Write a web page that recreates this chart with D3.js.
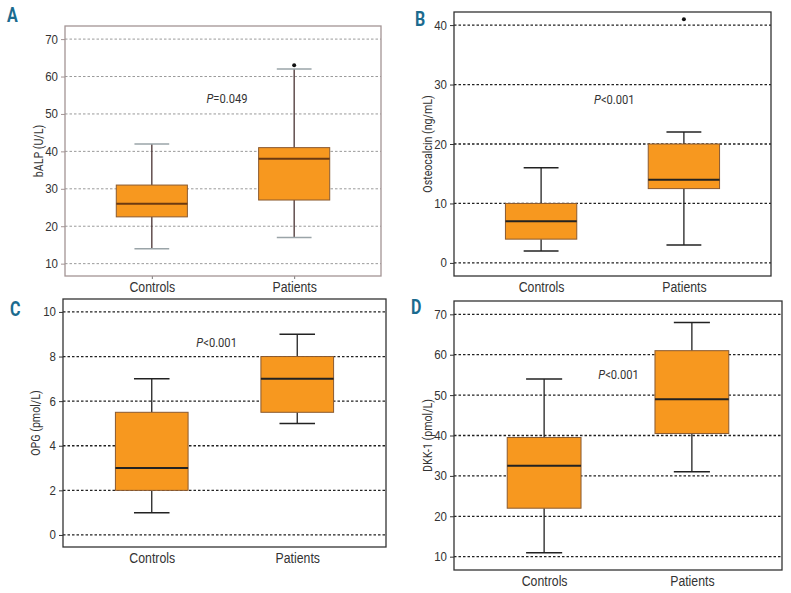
<!DOCTYPE html>
<html><head><meta charset="utf-8">
<script src="https://cdn.jsdelivr.net/npm/d3@7"></script>
<style>
body{margin:0;background:#fff;}
svg{display:block;font-family:"Roboto","Liberation Sans",sans-serif;}
</style></head>
<body><svg id="c" width="791" height="593"></svg>
<script>
// ---- data ----
const categories = ["Controls", "Patients"];
// [min whisker, Q1, median, Q3, max whisker] per category
const bALPStats = [[14, 22.5, 26, 31, 42], [17, 27, 38, 41, 62]];
const bALPOutliers = [[], [63]];
const osteocalcinStats = [[2, 4, 7, 10, 16], [3, 12.5, 14, 20, 22]];
const osteocalcinOutliers = [[], [41]];
const opgStats = [[1, 2, 3, 5.5, 7], [5, 5.5, 7, 8, 9]];
const opgOutliers = [[], []];
const dkkStats = [[11, 22, 32.5, 39.5, 54], [31, 40.5, 49, 61, 68]];
const dkkOutliers = [[], []];
const bALPTicks = [10, 20, 30, 40, 50, 60, 70];
const osteocalcinTicks = [0, 10, 20, 30, 40];
const opgTicks = [0, 2, 4, 6, 8, 10];
const dkkTicks = [10, 20, 30, 40, 50, 60, 70];
const panelLetters = ["A", "B", "C", "D"];
const yTitles = ["bALP (U/L)", "Osteocalcin (ng/mL)", "OPG (pmol/L)", "DKK-1 (pmol/L)"];
const pLabels = [["P", "=0.049"], ["P", "<0.001"], ["P", "<0.001"], ["P", "<0.001"]];

// ---- layout ----
const panels = [
  {stats: bALPStats, out: bALPOutliers, ticks: bALPTicks, domain: [6.7, 73.5],
   x0: 65, x1: 381, y0: 26, y1: 276, letter: [7, 22], titleX: 39, catY: 287,
   pPos: [0.528, 54], frame: "#a39494", grid: "#9a9a9a", gridW: 1, whisk: "#4a3434", cap: "#9aa4a8", med: "#6b3a12", botTick: true},
  {stats: osteocalcinStats, out: osteocalcinOutliers, ticks: osteocalcinTicks, domain: [-2.2, 42.2],
   x0: 454, x1: 771, y0: 12, y1: 276, letter: [415, 26], titleX: 428, catY: 287,
   pPos: [0.513, 27.4], frame: "#333", grid: "#222", gridW: 1.3, whisk: "#222", cap: "#222", med: "#222", botTick: false},
  {stats: opgStats, out: opgOutliers, ticks: opgTicks, domain: [-0.54, 10.58],
   x0: 63, x1: 386, y0: 299, y1: 547, letter: [10, 316], titleX: 36, catY: 558,
   pPos: [0.446, 8.6], frame: "#333", grid: "#222", gridW: 1.3, whisk: "#222", cap: "#222", med: "#222", botTick: false},
  {stats: dkkStats, out: dkkOutliers, ticks: dkkTicks, domain: [6.7, 73.3],
   x0: 454, x1: 782, y0: 301, y1: 570, letter: [411, 314], titleX: 428, catY: 581,
   pPos: [0.504, 55], frame: "#333", grid: "#222", gridW: 1.3, whisk: "#222", cap: "#222", med: "#222", botTick: false}
];

const svg = d3.select("#c");
const boxFill = "#f7981f", boxStroke = "#8a5a30";

// condensed text helper: horizontal squeeze around the anchor point
function ctext(parent, x, y, sx, size) {
  return parent.append("g").attr("transform", `translate(${x},${y}) scale(${sx},1)`)
    .append("text").attr("fill", "#333").style("font-size", size + "px");
}

panels.forEach((p, i) => {
  const g = svg.append("g");
  const y = d3.scaleLinear().domain(p.domain).range([p.y1, p.y0]);
  const x = d3.scalePoint().domain(categories).range([p.x0, p.x1]).padding(0.61);
  const W = p.x1 - p.x0;
  const bw = W * 0.225, cw = W * 0.11;

  // grid
  g.selectAll(".grid").data(p.ticks).join("line")
    .attr("x1", p.x0).attr("x2", p.x1)
    .attr("y1", d => y(d)).attr("y2", d => y(d))
    .attr("stroke", p.grid).attr("stroke-width", p.gridW)
    .attr("stroke-dasharray", "2.5,2");

  // y axis
  const sT = 0.92;
  const ax = g.append("g").attr("transform", `translate(${p.x0},0)`)
    .call(d3.axisLeft(y).tickValues(p.ticks).tickSize(4).tickPadding(3));
  ax.select(".domain").remove();
  ax.selectAll(".tick line").attr("stroke", p.frame);
  ax.selectAll(".tick text").attr("fill", "#333").style("font-size", "12.5px")
    .style("font-family", "inherit")
    .attr("x", -7 / sT).attr("transform", `scale(${sT},1)`);

  // x axis labels
  const sC = 0.82;
  const xa = g.append("g").attr("transform", `translate(0,${p.y1})`)
    .call(d3.axisBottom(x).tickSize(p.botTick ? 3 : 0).tickPadding(0));
  xa.select(".domain").remove();
  xa.selectAll(".tick line").attr("stroke", "#777");
  xa.selectAll(".tick text").attr("fill", "#333").style("font-size", "15px")
    .style("font-family", "inherit").attr("y", 0).attr("dy", null)
    .attr("dominant-baseline", "central")
    .attr("transform", `translate(0,${p.catY - p.y1}) scale(${sC},1)`);

  // boxes
  categories.forEach((c, j) => {
    const s = p.stats[j], cx = x(c);
    g.append("line").attr("x1", cx).attr("x2", cx).attr("y1", y(s[0])).attr("y2", y(s[1]))
      .attr("stroke", p.whisk).attr("stroke-width", 1.3);
    g.append("line").attr("x1", cx).attr("x2", cx).attr("y1", y(s[3])).attr("y2", y(s[4]))
      .attr("stroke", p.whisk).attr("stroke-width", 1.3);
    [s[0], s[4]].forEach(v => g.append("line")
      .attr("x1", cx - cw / 2).attr("x2", cx + cw / 2).attr("y1", y(v)).attr("y2", y(v))
      .attr("stroke", p.cap).attr("stroke-width", 1.5));
    g.append("rect").attr("x", cx - bw / 2).attr("width", bw)
      .attr("y", y(s[3])).attr("height", y(s[1]) - y(s[3]))
      .attr("fill", boxFill).attr("stroke", boxStroke).attr("stroke-width", 1);
    g.append("line").attr("x1", cx - bw / 2).attr("x2", cx + bw / 2)
      .attr("y1", y(s[2])).attr("y2", y(s[2]))
      .attr("stroke", p.med).attr("stroke-width", 2);
    p.out[j].forEach(v => g.append("circle").attr("cx", cx).attr("cy", y(v)).attr("r", 2)
      .attr("fill", "#111"));
  });

  // frame
  g.append("rect").attr("x", p.x0).attr("y", p.y0).attr("width", W).attr("height", p.y1 - p.y0)
    .attr("fill", "none").attr("stroke", p.frame).attr("stroke-width", 1.3);

  // y title (rotated, condensed)
  g.append("g").attr("transform", `translate(${p.titleX},${(p.y0 + p.y1) / 2}) rotate(-90) scale(0.82,1)`)
    .append("text").attr("text-anchor", "middle").attr("dominant-baseline", "central")
    .attr("fill", "#333").style("font-size", "13px").text(yTitles[i]);

  // P value
  const px = x(categories[0]) + (x(categories[1]) - x(categories[0])) * p.pPos[0];
  const pt = ctext(g, px, y(p.pPos[1]), 0.86, 13)
    .attr("text-anchor", "middle").attr("dominant-baseline", "central");
  pt.append("tspan").style("font-style", "italic").text(pLabels[i][0]);
  pt.append("tspan").text(pLabels[i][1]);

  // panel letter
  ctext(svg, p.letter[0], p.letter[1], 0.8, 20)
    .attr("fill", "#1b6b8f").style("font-weight", "bold")
    .text(panelLetters[i]);
});
</script></body></html>
